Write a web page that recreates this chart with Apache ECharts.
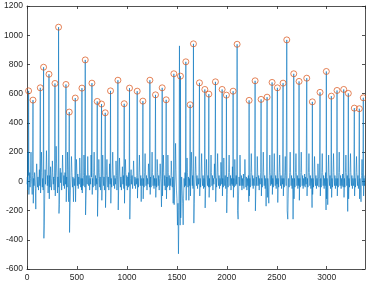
<!DOCTYPE html>
<html><head><meta charset="utf-8">
<script src="https://cdn.jsdelivr.net/npm/echarts@6/dist/echarts.min.js"></script>
<style>html,body{margin:0;padding:0;background:#fff}#c{width:366px;height:284px}</style>
</head><body><div id="c"></div>
<script>
var xTicks = [0, 500, 1000, 1500, 2000, 2500, 3000];
var yTicks = [-600, -400, -200, 0, 200, 400, 600, 800, 1000, 1200];
var peakX = [16,60,133,166,220,280,316,390,423,483,550,583,650,703,746,783,836,910,973,1026,1103,1160,1230,1286,1353,1393,1470,1536,1590,1633,1666,1726,1780,1820,1886,1953,1996,2063,2103,2223,2283,2343,2403,2453,2506,2563,2600,2670,2723,2800,2856,2933,2996,3046,3103,3170,3216,3276,3326,3366];
var peakY = [619,556,640,781,733,670,1055,663,474,570,638,831,672,547,529,469,619,692,531,638,617,549,692,592,640,558,736,720,818,524,941,674,629,597,681,629,590,617,938,554,688,561,576,677,640,672,968,736,684,706,544,609,752,583,622,629,602,501,497,572];
var signal = [[0,-20],[4,30],[7,-60],[10,200],[13,40],[16,619],[19,-90],[23,10],[27,60],[31,-40],[35,20],[40,200],[44,30],[48,-20],[52,-90],[56,40],[60,556],[63,-150],[67,20],[71,-30],[76,60],[80,10],[84,-50],[88,-190],[92,30],[97,120],[101,50],[106,-40],[110,30],[115,-60],[119,10],[124,80],[128,-30],[133,640],[136,-80],[140,30],[145,200],[149,60],[153,-40],[158,20],[162,-60],[166,781],[169,-390],[173,-300],[177,-120],[181,80],[185,-20],[190,50],[195,210],[199,80],[203,-30],[207,40],[211,-80],[216,10],[220,733],[223,-120],[227,40],[231,-40],[236,100],[240,30],[245,-60],[250,20],[254,140],[258,60],[263,-20],[267,30],[271,-60],[276,20],[280,670],[283,-100],[287,30],[292,240],[296,120],[300,40],[305,-80],[309,30],[313,-40],[316,1055],[320,-220],[324,-160],[328,40],[333,90],[337,-10],[342,60],[347,-60],[351,30],[356,180],[360,70],[365,-30],[370,40],[375,-50],[380,60],[385,-20],[390,663],[393,-140],[397,30],[402,-40],[406,200],[410,80],[414,-60],[418,-140],[423,474],[426,-350],[430,-200],[435,-60],[440,40],[445,170],[450,60],[455,-40],[460,30],[465,-140],[470,20],[475,-30],[479,40],[483,570],[486,-140],[490,20],[495,150],[499,70],[504,-30],[508,50],[513,-50],[518,30],[523,-20],[528,160],[533,60],[538,-40],[542,20],[546,-60],[550,638],[553,-80],[557,20],[562,-30],[566,40],[570,180],[575,60],[579,-40],[583,831],[586,-230],[590,-130],[594,-40],[598,40],[603,-20],[608,170],[612,60],[617,-30],[622,40],[627,-60],[632,20],[637,-20],[641,180],[645,30],[650,672],[653,-90],[657,20],[662,-40],[667,60],[672,200],[676,70],[680,-30],[685,40],[690,-60],[694,20],[699,-20],[703,547],[706,-240],[710,-120],[714,20],[719,150],[723,60],[728,-40],[732,30],[737,-60],[741,10],[746,529],[749,-130],[753,20],[758,180],[762,40],[767,-30],[771,30],[775,-60],[779,10],[783,469],[786,-180],[790,-60],[795,40],[800,150],[804,50],[809,-40],[814,30],[819,-60],[823,20],[827,120],[832,-20],[836,619],[839,-150],[843,20],[848,-40],[853,50],[858,200],[862,70],[867,-30],[872,40],[877,-50],[882,20],[887,-20],[891,140],[896,40],[900,-60],[905,10],[910,692],[913,-196],[917,-60],[921,30],[926,160],[930,50],[935,-40],[940,30],[945,-60],[950,20],[955,100],[960,-20],[964,40],[969,-50],[973,531],[976,-150],[980,20],[985,150],[989,60],[994,-30],[999,40],[1004,-60],[1009,30],[1014,-40],[1018,60],[1022,-30],[1026,638],[1029,-259],[1033,-120],[1037,20],[1042,80],[1047,-20],[1052,40],[1057,-50],[1062,30],[1067,140],[1071,40],[1076,-30],[1081,30],[1086,-50],[1091,20],[1095,-20],[1099,40],[1103,617],[1106,-115],[1110,20],[1115,-40],[1120,50],[1125,180],[1129,60],[1134,-30],[1139,40],[1143,-139],[1148,20],[1153,-30],[1157,30],[1160,549],[1163,-120],[1167,20],[1172,-40],[1177,60],[1182,190],[1186,70],[1191,-30],[1196,40],[1201,-60],[1206,20],[1211,-20],[1216,120],[1221,30],[1226,-40],[1230,692],[1233,-90],[1237,30],[1242,-40],[1247,50],[1252,200],[1256,60],[1261,-30],[1266,40],[1271,-50],[1276,20],[1281,-30],[1286,592],[1289,-110],[1293,20],[1298,-40],[1303,150],[1308,60],[1313,-30],[1318,40],[1323,-60],[1328,20],[1333,120],[1338,30],[1342,-40],[1346,-175],[1350,20],[1353,640],[1356,-100],[1360,30],[1365,180],[1369,60],[1374,-30],[1379,40],[1384,-60],[1389,20],[1393,558],[1396,-120],[1400,30],[1405,-40],[1410,180],[1414,60],[1419,-30],[1424,40],[1429,-60],[1434,20],[1439,-30],[1444,140],[1449,40],[1454,-40],[1459,30],[1463,-150],[1467,20],[1470,736],[1473,-160],[1477,-40],[1482,30],[1487,260],[1491,80],[1496,-60],[1501,-120],[1506,-300],[1511,-150],[1516,-496],[1521,-200],[1526,927],[1530,-100],[1533,-300],[1536,720],[1539,-250],[1543,-100],[1548,30],[1553,-60],[1558,-150],[1563,-298],[1567,-120],[1572,20],[1577,-40],[1582,60],[1586,-30],[1590,818],[1593,-130],[1597,30],[1602,160],[1606,60],[1611,-40],[1616,30],[1620,-130],[1625,20],[1629,-30],[1633,524],[1636,-100],[1640,30],[1645,200],[1649,70],[1654,-30],[1658,40],[1662,-50],[1666,941],[1670,-286],[1674,-150],[1678,-40],[1683,40],[1688,170],[1692,60],[1697,-30],[1702,40],[1707,-50],[1712,20],[1717,-20],[1721,60],[1726,674],[1729,-100],[1733,20],[1738,-40],[1743,50],[1748,190],[1752,60],[1757,-30],[1762,40],[1767,-50],[1771,20],[1776,-40],[1780,629],[1783,-182],[1787,-60],[1792,30],[1797,150],[1801,50],[1806,-30],[1811,40],[1816,-40],[1820,597],[1823,-110],[1827,20],[1832,-40],[1837,50],[1842,180],[1846,60],[1851,-30],[1856,40],[1861,-60],[1866,20],[1871,-20],[1876,120],[1881,20],[1886,681],[1889,-140],[1893,20],[1898,-40],[1903,50],[1908,190],[1912,60],[1917,-30],[1922,40],[1927,-50],[1932,20],[1937,-30],[1941,130],[1946,30],[1950,-20],[1953,629],[1956,-100],[1960,20],[1965,-40],[1970,160],[1974,50],[1979,-30],[1984,40],[1989,-50],[1993,20],[1996,590],[1999,-216],[2003,-90],[2008,30],[2013,-40],[2018,60],[2023,180],[2027,60],[2032,-30],[2037,40],[2042,-60],[2047,20],[2052,-20],[2056,100],[2060,-30],[2063,617],[2066,-110],[2070,20],[2075,-40],[2080,150],[2084,50],[2089,-30],[2094,40],[2099,-20],[2103,938],[2107,-200],[2113,-259],[2117,-100],[2122,30],[2127,-30],[2132,180],[2136,60],[2141,-30],[2146,40],[2151,-60],[2156,20],[2161,-30],[2166,50],[2171,-50],[2176,20],[2181,150],[2186,40],[2191,-40],[2196,30],[2201,-60],[2206,20],[2211,-30],[2216,40],[2220,-140],[2223,554],[2226,-100],[2230,20],[2235,-40],[2240,60],[2245,190],[2249,60],[2254,-30],[2259,40],[2264,-50],[2269,20],[2274,-30],[2279,50],[2283,688],[2286,-202],[2290,-80],[2295,30],[2300,-30],[2305,170],[2309,60],[2314,-30],[2319,40],[2324,-60],[2329,20],[2334,-20],[2339,60],[2343,561],[2346,-100],[2350,20],[2355,-40],[2360,50],[2365,200],[2369,60],[2374,-30],[2379,40],[2384,-50],[2389,20],[2393,-170],[2398,30],[2403,576],[2406,-110],[2410,20],[2415,-40],[2420,-150],[2425,40],[2430,180],[2434,60],[2439,-30],[2444,40],[2449,-20],[2453,677],[2456,-90],[2460,20],[2465,-40],[2470,50],[2475,190],[2479,60],[2484,-30],[2489,40],[2494,-50],[2499,20],[2503,-20],[2506,640],[2510,-145],[2514,20],[2519,-40],[2524,60],[2529,180],[2533,60],[2538,-30],[2543,40],[2548,-50],[2553,20],[2558,-20],[2563,672],[2566,-100],[2570,20],[2575,-40],[2580,60],[2585,170],[2589,40],[2594,-30],[2600,968],[2604,-200],[2610,-259],[2614,-120],[2619,20],[2624,-40],[2629,60],[2634,200],[2638,60],[2643,-30],[2648,40],[2653,-50],[2658,20],[2663,-259],[2667,-100],[2670,736],[2673,-120],[2677,20],[2682,-40],[2687,60],[2692,190],[2696,60],[2701,-30],[2706,40],[2711,-50],[2716,20],[2720,-30],[2723,684],[2726,-130],[2730,20],[2735,-40],[2740,60],[2745,200],[2749,60],[2754,-30],[2759,40],[2764,-50],[2769,20],[2774,-30],[2779,50],[2784,-40],[2789,30],[2794,-20],[2800,706],[2803,-100],[2807,20],[2812,-40],[2817,60],[2822,190],[2826,60],[2831,-30],[2836,40],[2841,-50],[2846,20],[2851,-30],[2853,-180],[2856,544],[2859,-90],[2863,20],[2868,-40],[2873,50],[2878,170],[2882,60],[2887,-30],[2892,40],[2897,-50],[2902,20],[2907,-30],[2912,120],[2917,30],[2922,-40],[2927,20],[2933,609],[2936,-100],[2940,20],[2945,-40],[2950,60],[2955,190],[2959,60],[2964,-30],[2969,40],[2974,-50],[2979,20],[2984,-30],[2989,60],[2993,-196],[2996,752],[2999,-120],[3003,20],[3008,-40],[3010,-160],[3014,50],[3019,180],[3023,60],[3028,-30],[3033,40],[3038,-50],[3042,20],[3046,583],[3049,-110],[3053,20],[3058,-40],[3063,60],[3068,190],[3072,60],[3077,-30],[3082,40],[3087,-50],[3092,20],[3097,-30],[3100,40],[3103,622],[3106,-100],[3110,20],[3115,-40],[3120,60],[3125,200],[3129,60],[3134,-30],[3139,40],[3144,-50],[3149,20],[3154,-30],[3159,50],[3164,-40],[3167,20],[3170,629],[3173,-110],[3177,20],[3182,-40],[3187,60],[3192,180],[3196,60],[3201,-30],[3206,40],[3210,-206],[3213,20],[3216,602],[3219,-120],[3223,20],[3228,-40],[3233,60],[3238,190],[3242,60],[3247,-30],[3252,40],[3257,-50],[3262,20],[3267,-30],[3272,40],[3276,501],[3279,-100],[3283,20],[3288,-40],[3293,60],[3298,170],[3302,60],[3307,-30],[3312,40],[3317,-50],[3322,20],[3326,497],[3329,-120],[3333,20],[3338,-40],[3343,-140],[3348,40],[3353,150],[3357,60],[3361,-30],[3366,572],[3369,-100],[3373,20],[3378,-30],[3383,40]];

var peaks = peakX.map(function (x, i) { return [x, peakY[i]]; });
var axisColor = '#262626';
function plain(v) { return String(v); }
var labelStyle = { color: axisColor, fontSize: 8.5, fontFamily: 'Liberation Sans, Arial, sans-serif', formatter: plain };
var chart = echarts.init(document.getElementById('c'), null, { renderer: 'canvas' });
chart.setOption({
  animation: false,
  grid: { left: 27, right: 1, top: 6, bottom: 15, containLabel: false },
  xAxis: [
    { type: 'value', min: 0, max: 3383, interval: 500, position: 'bottom',
      axisLine: { show: true, onZero: false, lineStyle: { color: axisColor, width: 0.8 } },
      axisTick: { show: true, inside: true, length: 3, lineStyle: { color: axisColor, width: 0.8 } },
      axisLabel: Object.assign({ margin: 4, showMaxLabel: false }, labelStyle),
      splitLine: { show: false } },
    { type: 'value', min: 0, max: 3383, interval: 500, position: 'top',
      axisLine: { show: true, onZero: false, lineStyle: { color: axisColor, width: 0.8 } },
      axisTick: { show: true, inside: true, length: 3, lineStyle: { color: axisColor, width: 0.8 } },
      axisLabel: { show: false }, splitLine: { show: false } }
  ],
  yAxis: [
    { type: 'value', min: -600, max: 1200, interval: 200, position: 'left',
      axisLine: { show: true, onZero: false, lineStyle: { color: axisColor, width: 0.8 } },
      axisTick: { show: true, inside: true, length: 3, lineStyle: { color: axisColor, width: 0.8 } },
      axisLabel: Object.assign({ margin: 4 }, labelStyle),
      splitLine: { show: false } },
    { type: 'value', min: -600, max: 1200, interval: 200, position: 'right',
      axisLine: { show: true, onZero: false, lineStyle: { color: axisColor, width: 0.8 } },
      axisTick: { show: true, inside: true, length: 3, lineStyle: { color: axisColor, width: 0.8 } },
      axisLabel: { show: false }, splitLine: { show: false } }
  ],
  series: [
    { type: 'line', data: signal, showSymbol: false, symbol: 'none',
      lineStyle: { color: '#0072BD', width: 0.6 }, xAxisIndex: 0, yAxisIndex: 0, z: 2 },
    { type: 'scatter', data: peaks, symbol: 'circle', symbolSize: 6,
      itemStyle: { color: 'rgba(255,255,255,0)', borderColor: '#D95319', borderWidth: 0.9 },
      xAxisIndex: 0, yAxisIndex: 0, z: 3 }
  ]
});
</script></body></html>
